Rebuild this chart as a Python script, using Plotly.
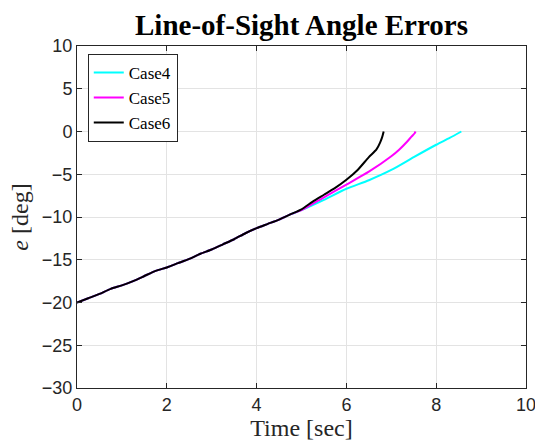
import plotly.graph_objects as go

# Common early part (all cases overlap)
t_common = [0, 0.25, 0.5, 0.75, 1.0, 1.25, 1.5, 1.75, 2.0, 2.25, 2.5, 2.75, 3.0, 3.25, 3.5, 3.75, 4.0, 4.25, 4.5, 4.75, 5.0]
e_common = [-20, -19.5, -19.0, -18.4, -18.0, -17.5, -16.9, -16.3, -15.9, -15.4, -14.9, -14.3, -13.8, -13.2, -12.6, -11.9, -11.3, -10.8, -10.3, -9.7, -9.2]

t4 = [5.5, 6.0, 6.5, 7.0, 7.5, 8.0, 8.3, 8.56]
e4 = [-8.0, -6.7, -5.7, -4.5, -3.0, -1.55, -0.75, 0.0]

t5 = [5.5, 6.0, 6.5, 7.0, 7.18, 7.35, 7.45, 7.52, 7.54]
e5 = [-7.7, -6.2, -4.7, -2.9, -2.1, -1.2, -0.6, -0.2, 0.0]

t6 = [5.25, 5.5, 5.75, 6.0, 6.25, 6.5, 6.67, 6.75, 6.8, 6.83]
e6 = [-8.2, -7.4, -6.6, -5.65, -4.5, -3.0, -2.1, -1.3, -0.6, 0.0]

names = ["Case4", "Case5", "Case6"]
colors = ["#00FFFF", "#FF00FF", "#000000"]

fig = go.Figure()
for name, col, tt, ee in zip(names, colors, [t4, t5, t6], [e4, e5, e6]):
    if name == "Case6":
        tc = [t for t in t_common if t < 5.0] + [5.0]
        ec = e_common[:len(tc) - 1] + [-9.1]
    else:
        tc, ec = t_common, e_common
    fig.add_trace(go.Scatter(x=tc + tt, y=ec + ee, mode="lines", name=name,
                             line=dict(color=col, width=2, shape="spline", smoothing=0.6)))

serif = "Liberation Serif, Times New Roman, serif"
axis_common = dict(
    showline=True, linecolor="#262626", linewidth=1, mirror="ticks",
    ticks="inside", ticklen=5, tickcolor="#262626",
    showgrid=True, gridcolor="#E3E3E3", gridwidth=1, zeroline=False,
    automargin=False, ticklabeloverflow="allow",
    tickfont=dict(family="Liberation Sans, Arial, sans-serif", size=18, color="#262626"),
)

fig.update_layout(
    width=535, height=444,
    margin=dict(l=77, r=9, t=46, b=56),
    paper_bgcolor="white", plot_bgcolor="white",
    title=dict(text="<b>Line-of-Sight Angle Errors</b>", xref="paper", x=0.5, xanchor="center",
               yref="container", y=0.944, yanchor="middle",
               font=dict(family=serif, size=29, color="#000000")),
    xaxis=dict(range=[0, 10], tickvals=[0, 2, 4, 6, 8, 10],
               title=dict(text="Time [sec]", standoff=4,
                          font=dict(family=serif, size=24, color="#262626")),
               **axis_common),
    yaxis=dict(range=[-30, 10], tickvals=[-30, -25, -20, -15, -10, -5, 0, 5, 10],
               title=dict(text="<i>e</i> [deg]", standoff=6,
                          font=dict(family=serif, size=24, color="#262626")),
               **axis_common),
    legend=dict(x=0.024, y=0.977, xanchor="left", yanchor="top",
                bgcolor="white", bordercolor="#262626", borderwidth=1,
                font=dict(family=serif, size=17, color="#000000"),
                tracegroupgap=0, itemwidth=30),
    showlegend=True,
)

fig.write_html("out.html")
